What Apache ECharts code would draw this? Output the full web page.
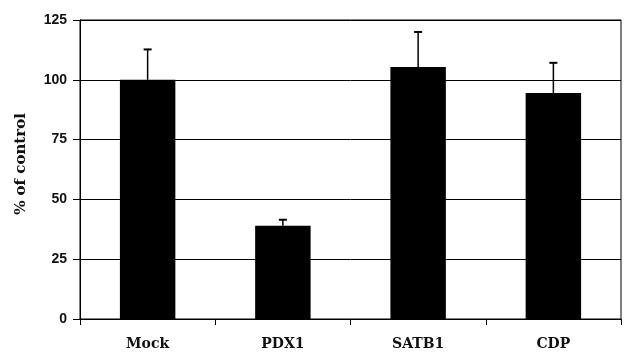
<!DOCTYPE html>
<html><head><meta charset="utf-8">
<script src="https://cdn.jsdelivr.net/npm/echarts@6/dist/echarts.min.js"></script>
<style>html,body{margin:0;padding:0;background:#fff}#c{width:624px;height:355px}</style>
</head><body><div id="c"></div>
<script>
const categories = ['Mock', 'PDX1', 'SATB1', 'CDP'];
const values = [100, 39, 105.3, 94.5];
const errorTops = [112.7, 41.5, 120, 107.1];
const yTicks = [0, 25, 50, 75, 100, 125];

const chart = echarts.init(document.getElementById('c'));
chart.setOption({
  animation: false,
  backgroundColor: '#fff',
  grid: { left: 80, right: 3, top: 20, bottom: 36, show: true, borderColor: '#000', borderWidth: 1 },
  xAxis: {
    type: 'category', data: categories,
    axisLine: { lineStyle: { color: '#000', width: 1 } },
    axisTick: { show: true, length: 6, lineStyle: { color: '#000' } },
    axisLabel: { color: '#111', fontFamily: 'DejaVu Serif', fontWeight: 'bold', fontSize: 14, margin: 18 }
  },
  yAxis: {
    type: 'value', min: yTicks[0], max: yTicks[yTicks.length - 1], interval: 25,
    name: '% of control', nameLocation: 'middle', nameRotate: 90, nameGap: 51,
    nameTextStyle: { color: '#111', fontFamily: 'DejaVu Serif', fontWeight: 'bold', fontSize: 15, padding: [0, 0, 0, 11] },
    axisLine: { show: true, lineStyle: { color: '#000', width: 1 } },
    axisTick: { show: true, length: 7, lineStyle: { color: '#000' } },
    splitLine: { show: true, lineStyle: { color: '#000', width: 1 } },
    axisLabel: { color: '#111', fontFamily: 'Liberation Sans', fontWeight: 'bold', fontSize: 14, margin: 13 }
  },
  series: [
    {
      type: 'bar', data: values, barWidth: '41%',
      itemStyle: { color: '#000' }, z: 2
    },
    {
      type: 'custom', z: 3,
      data: categories.map((c, i) => [i, values[i], errorTops[i]]),
      renderItem: function (params, api) {
        const base = api.coord([api.value(0), api.value(1)]);
        const top = api.coord([api.value(0), api.value(2)]);
        const hw = 4;
        return {
          type: 'group',
          children: [
            { type: 'line', shape: { x1: base[0], y1: base[1], x2: top[0], y2: top[1] }, style: { stroke: '#000', lineWidth: 1.5 } },
            { type: 'line', shape: { x1: top[0] - hw, y1: top[1], x2: top[0] + hw, y2: top[1] }, style: { stroke: '#000', lineWidth: 2 } }
          ]
        };
      }
    }
  ]
});
</script>
</body></html>
